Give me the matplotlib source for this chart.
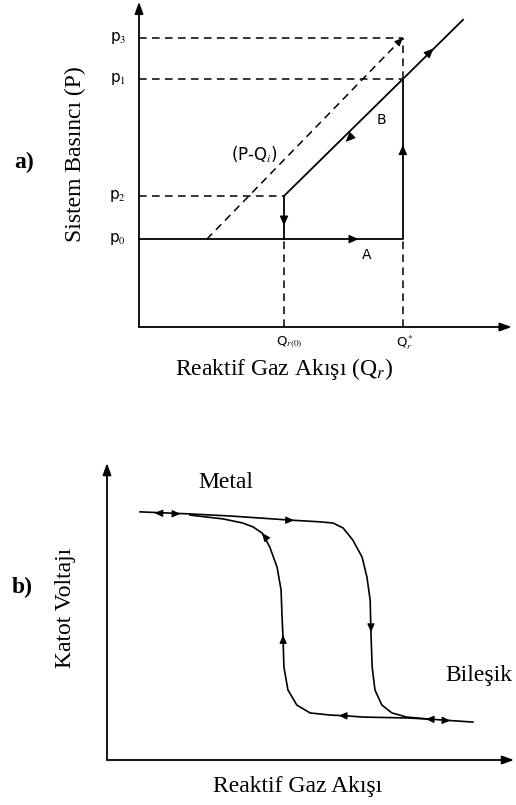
import numpy as np
import matplotlib
matplotlib.use("Agg")
import matplotlib.pyplot as plt

plt.rcParams['mathtext.fontset'] = 'stix'

# ---- panel a: pressure vs reactive gas flow (schematic units 0-100)
p_levels = [27.3, 40.7, 77.0, 89.8]          # p0, p2, p1, p3
p_names = ['p$_0$', 'p$_2$', 'p$_1$', 'p$_3$']
q_zero, q_star = 39.3, 71.5
q_labels = ['Q$_{r(0)}$', 'Q$_r^*$']
branch_a_x = [0, q_star, q_star]
branch_a_y = [27.3, 27.3, 77.0]
branch_b_x = [q_zero, q_star, 87.8]
branch_b_y = [40.7, 77.0, 95.4]
pq_x = [18.4, q_star]
pq_y = [27.3, 89.8]

# ---- panel b: cathode voltage hysteresis (schematic units 0-100)
up_x = [8.2, 20.6, 30.5, 45.4, 52.9, 56.1, 58.6, 61.0, 63.3, 64.5, 65.3,
        65.5, 65.8, 66.5, 68.2, 70.7, 74.4, 80.1, 90.8]
up_y = [84.4, 83.7, 83.0, 81.6, 81.0, 80.6, 78.9, 74.8, 69.0, 62.2, 54.4,
        43.2, 31.6, 23.8, 18.7, 16.0, 14.6, 13.9, 12.9]
down_x = [80.1, 74.4, 63.5, 59.6, 55.3, 50.4, 47.1, 44.9, 43.9, 43.7, 43.4,
          43.2, 42.2, 40.4, 38.5, 36.2, 33.7, 28.8, 20.6]
down_y = [13.9, 14.3, 14.6, 15.0, 15.3, 16.0, 18.7, 23.8, 31.6, 40.8, 50.0,
          57.8, 65.6, 72.4, 77.2, 79.3, 80.6, 82.0, 83.3]

W, H = 516, 805
fig = plt.figure(figsize=(W / 100, H / 100), dpi=100)


def frac(px, py):
    return px / W, 1 - py / H


def head(ax, x, y, dx, dy, size=13):
    ax.annotate('', xy=(x, y), xytext=(x - dx, y - dy),
                arrowprops=dict(arrowstyle='-|>,head_length=0.45,head_width=0.2',
                                color='k', lw=0.8,
                                mutation_scale=size, shrinkA=0, shrinkB=0),
                annotation_clip=False)


def axis_arrows(ax):
    for tip in [(101, 0), (0, 101)]:
        ax.annotate('', xy=tip, xytext=(0, 0),
                    arrowprops=dict(arrowstyle='-|>,head_length=0.5,head_width=0.18',
                                    color='k', lw=1.3,
                                    mutation_scale=14, shrinkA=0, shrinkB=0),
                    annotation_clip=False)


# ===== panel a
axa = fig.add_axes([139 / W, 1 - 327 / H, 369 / W, 322 / H])
axa.set_xlim(0, 100)
axa.set_ylim(0, 100)
axa.axis('off')
axis_arrows(axa)

dash = dict(color='k', lw=1.1, ls=(0, (5, 3.5)), clip_on=False)
solid = dict(color='k', lw=1.3, clip_on=False)

# horizontal guide lines
axa.plot([0, q_star], [p_levels[3]] * 2, **dash)
axa.plot([0, q_star], [p_levels[2]] * 2, **dash)
axa.plot([0, q_zero], [p_levels[1]] * 2, **dash)
# vertical guide lines
axa.plot([q_zero, q_zero], [0, p_levels[0]], **dash)
axa.plot([q_star, q_star], [0, p_levels[0]], **dash)
axa.plot([q_star, q_star], [p_levels[2], p_levels[3]], **dash)
# P-Q_i line
axa.plot(pq_x, pq_y, **dash)
head(axa, pq_x[1], pq_y[1], 1.2, 1.4, size=11)

axa.plot(branch_a_x, branch_a_y, **solid)
axa.plot(branch_b_x, branch_b_y, **solid)
axa.plot([q_zero, q_zero], [p_levels[1], p_levels[0]], **solid)

head(axa, 59.5, p_levels[0], 1.5, 0)
head(axa, q_star, 56.5, 0, 1.5)
head(axa, q_zero, 31.5, 0, -1.5)
head(axa, 56.0, 57.5, -1.0, -1.13)
head(axa, 79.8, 86.5, 1.0, 1.13)

for y, lab in zip(p_levels, p_names):
    axa.text(-3.5, y, lab, ha='right', va='center', fontsize=11,
             family='DejaVu Sans')
for x, lab in zip([q_zero + 1.5, q_star + 0.5], q_labels):
    axa.text(x, -4.8, lab, ha='center', va='center', fontsize=9.5,
             family='DejaVu Sans')
axa.text(61.8, 22.5, 'A', ha='center', va='center', fontsize=10)
axa.text(65.6, 64.3, 'B', ha='center', va='center', fontsize=10)
axa.text(31.4, 53.5, '(P-Q$_i$)', ha='center', va='center', fontsize=12)

fig.text(*frac(284, 369), 'Reaktif Gaz Akışı (Q$_r$)', ha='center', va='center',
         fontsize=17, family='Liberation Serif')
fig.text(*frac(75, 154), 'Sistem Basıncı (P)', ha='center', va='center',
         fontsize=17, family='Liberation Serif', rotation=90)
fig.text(*frac(24, 162), 'a)', ha='center', va='center', fontsize=17,
         family='Liberation Serif', weight='bold')

# ===== panel b
axb = fig.add_axes([107 / W, 1 - 760 / H, 403 / W, 294 / H])
axb.set_xlim(0, 100)
axb.set_ylim(0, 100)
axb.axis('off')
axis_arrows(axb)

axb.plot(up_x, up_y, color='k', lw=1.2, clip_on=False, solid_joinstyle='round')
axb.plot(down_x, down_y, color='k', lw=1.2, clip_on=False, solid_joinstyle='round')

head(axb, 11.8, 84.0, -1.2, 0.05, size=11)
head(axb, 18.2, 83.7, 1.2, -0.05, size=11)
head(axb, 46.4, 81.5, 1.2, -0.05, size=11)
head(axb, 38.5, 77.2, -0.5, 0.9, size=11)
head(axb, 43.7, 42.5, 0, 1.5, size=11)
head(axb, 65.5, 43.5, 0, -1.5, size=11)
head(axb, 57.5, 15.1, -1.2, 0.05, size=11)
head(axb, 79.1, 13.9, -1.2, 0.05, size=11)
head(axb, 85.2, 13.4, 1.2, -0.05, size=11)

fig.text(*frac(226, 482), 'Metal', ha='center', va='center', fontsize=17,
         family='Liberation Serif')
fig.text(*frac(479, 675), 'Bileşik', ha='center', va='center', fontsize=17,
         family='Liberation Serif')
fig.text(*frac(65, 608), 'Katot Voltajı', ha='center', va='center', fontsize=17,
         family='Liberation Serif', rotation=90)
fig.text(*frac(298, 786), 'Reaktif Gaz Akışı', ha='center', va='center',
         fontsize=17, family='Liberation Serif')
fig.text(*frac(22, 587), 'b)', ha='center', va='center', fontsize=17,
         family='Liberation Serif', weight='bold')

fig.savefig('out.png', dpi=100, facecolor='white')
